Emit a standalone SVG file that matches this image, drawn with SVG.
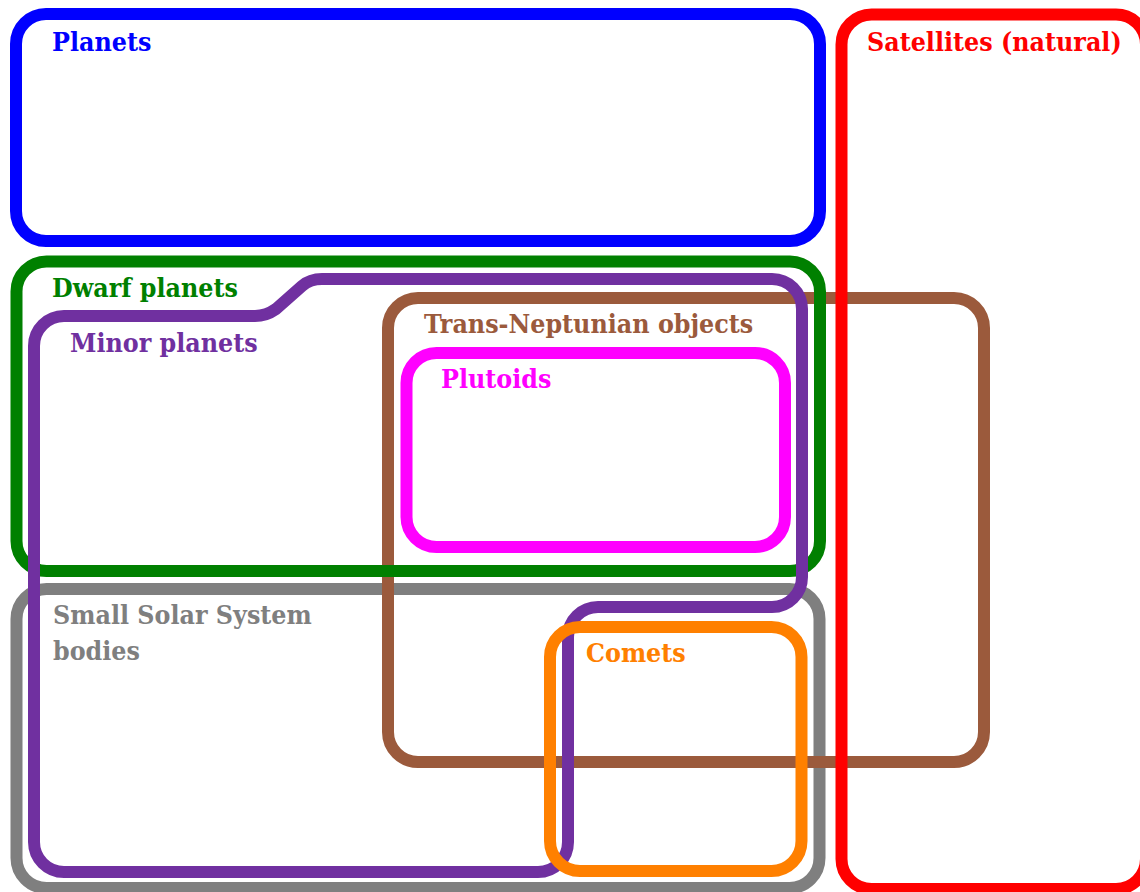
<svg xmlns="http://www.w3.org/2000/svg" width="1140" height="892" viewBox="0 0 1140 892">
<style>
.s{fill:none;stroke-width:12;stroke-linejoin:round}
.t{font-family:"DejaVu Serif Condensed","DejaVu Serif","Liberation Serif",serif;font-stretch:condensed;font-weight:bold;font-size:26.5px}
</style>
<rect width="1140" height="892" fill="#fff"/>
<g id="planets"><rect class="s" x="16" y="14" width="804" height="227" rx="30" stroke="#0000ff"/><text class="t" x="52" y="51" fill="#0000ff">Planets</text></g>
<g id="ssb"><rect class="s" x="16.5" y="589" width="803" height="299" rx="30" stroke="#7f7f7f"/><text class="t" x="53" y="624" fill="#7f7f7f">Small Solar System</text><text class="t" x="53" y="660" fill="#7f7f7f">bodies</text></g>
<g id="tno"><rect class="s" x="388" y="298" width="596" height="464" rx="30" stroke="#9b5a3c"/><text class="t" x="424" y="333" fill="#9b5a3c">Trans-Neptunian objects</text></g>
<g id="dwarf"><rect class="s" x="16.5" y="261.5" width="803.5" height="309.5" rx="30" stroke="#008000"/><text class="t" x="52" y="297" fill="#008000">Dwarf planets</text></g>
<g id="minor"><path class="s" stroke="#7030a0" d="M64 316H255Q266 316 276 309L302 286Q310 279 322 279H772A30 30 0 0 1 802 309V577A30 30 0 0 1 772 607H598A30 30 0 0 0 568 637V842A30 30 0 0 1 538 872H64A30 30 0 0 1 34 842V346A30 30 0 0 1 64 316Z"/><text class="t" x="70" y="352" fill="#7030a0">Minor planets</text></g>
<g id="plutoids"><rect class="s" x="406.5" y="353" width="378.5" height="194" rx="30" stroke="#ff00ff"/><text class="t" x="441" y="388" fill="#ff00ff">Plutoids</text></g>
<g id="comets"><rect class="s" x="550" y="627" width="251.5" height="244" rx="30" stroke="#ff8000"/><text class="t" x="586" y="662" fill="#ff8000">Comets</text></g>
<g id="satellites"><rect class="s" x="841.5" y="14.5" width="304.5" height="874.5" rx="30" stroke="#ff0000"/><text class="t" x="867" y="51" fill="#ff0000">Satellites (natural)</text></g>
<g id="connectors"></g>
</svg>
